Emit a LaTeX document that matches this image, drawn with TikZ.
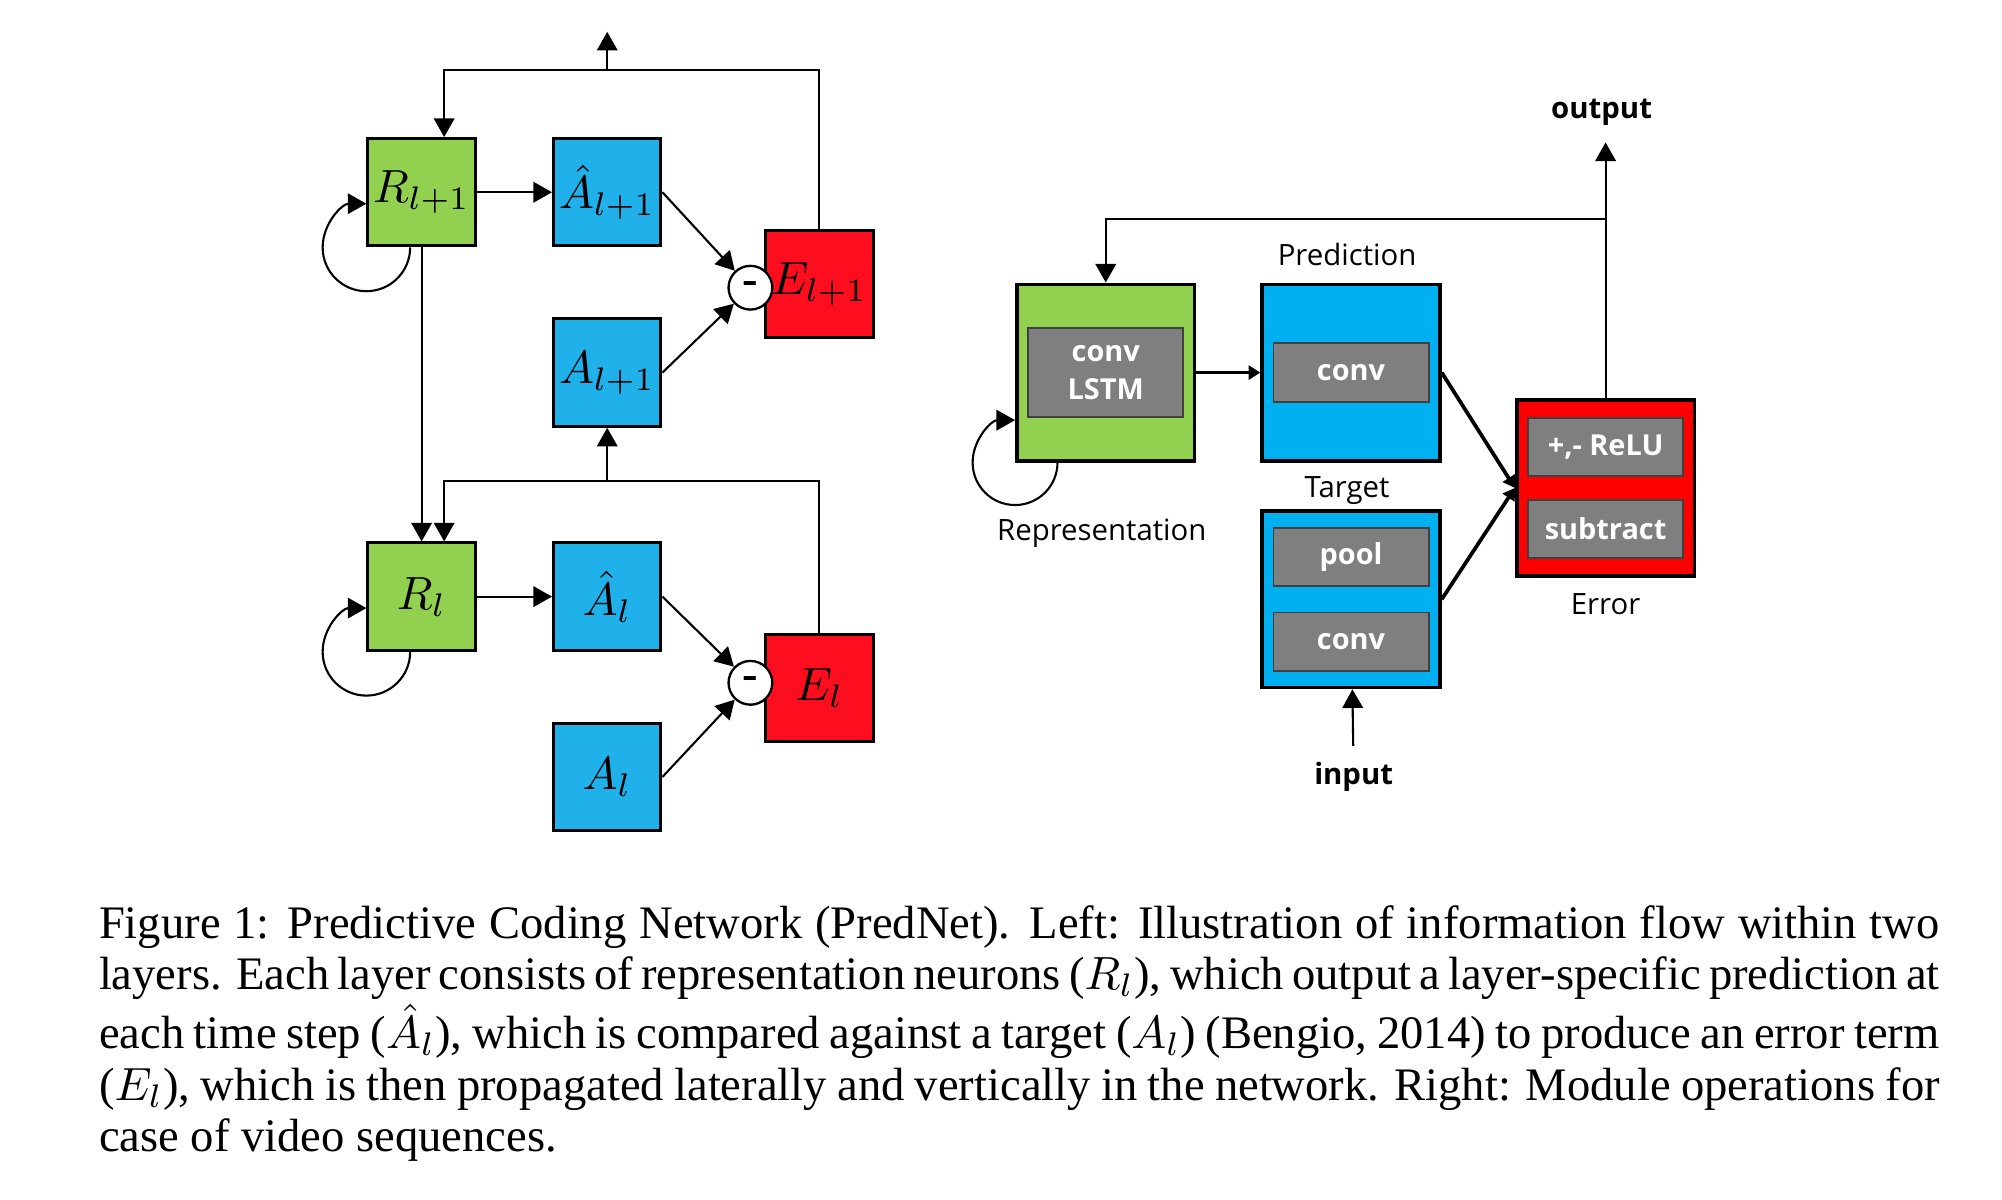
\documentclass[tikz,border=0pt]{standalone}
\usepackage{fontspec}
\setmainfont{Liberation Serif}
\newfontfamily\modfont{Open Sans}
\usetikzlibrary{
  arrows.meta,
  calc,
  positioning,
}
\definecolor{repgreen}{RGB}{146,208,80}
\definecolor{predblue}{RGB}{32,176,234}
\definecolor{modblue}{RGB}{0,176,240}
\definecolor{errred}{RGB}{252,14,30}
\definecolor{opgray}{RGB}{127,127,127}
\tikzset{
  >={Triangle[width=4.4pt,length=4pt]},
  unit/.style={draw, line width=0.65pt, minimum size=0.81cm, inner sep=0pt,
    font=\fontsize{10.3}{12}\selectfont},
  runit/.style={unit, fill=repgreen},
  aunit/.style={unit, fill=predblue},
  eunit/.style={unit, fill=errred},
  diff/.style={draw, fill=white, circle, line width=0.5pt, minimum size=0.33cm,
    inner sep=0pt, font=\bfseries},
  module/.style={draw, line width=0.8pt, minimum width=1.34cm, minimum height=1.33cm},
  op/.style={draw=black!75, line width=0.4pt, fill=opgray, text=white,
    minimum width=1.17cm, minimum height=0.44cm, inner sep=0pt, align=center,
    font=\modfont\bfseries\fontsize{6.2}{8.2}\selectfont},
  tag/.style={font=\modfont\fontsize{6.3}{7.5}\selectfont},
  flow/.style={line width=0.45pt},
}

\begin{document}
\begin{tikzpicture}
      \useasboundingbox (0,0) rectangle (15.10,9.05);
      % left: two layers
      \node [runit] (R1) at (3.18, 7.60) {$R_{l+1}$};
      \node [aunit] (Ah1) at (4.58, 7.60) {$\hat{A}_{l+1}$};
      \node [aunit] (A1) at (4.58, 6.24) {$A_{l+1}$};
      \node [eunit] (E1) at (6.18, 6.91) {$E_{l+1}$};
      \node [diff] (m1) at (5.66, 6.88) {-};
      \node [runit] (R0) at (3.18, 4.55) {$R_l$};
      \node [aunit] (Ah0) at (4.58, 4.55) {$\hat{A}_l$};
      \node [aunit] (A0) at (4.58, 3.19) {$A_l$};
      \node [eunit] (E0) at (6.18, 3.86) {$E_l$};
      \node [diff] (m0) at (5.66, 3.90) {-};
      \coordinate (top1) at (4.58, 8.52);
      \coordinate (out1) at (4.58, 8.81);
      \coordinate (top0) at (4.58, 5.42);
      \draw [flow,->] (R1) -- (Ah1);
      \draw [flow,->] (Ah1.east) -- (m1);
      \draw [flow,->] (A1.east) -- (m1);
      \draw [flow,->] (E1.north) |- (top1) -| ([xshift=0.17cm]R1.north);
      \draw [flow,->] (top1) -- (out1);
      \draw [flow,->] (R1) -- (R0);
      \draw [flow,->] (R0) -- (Ah0);
      \draw [flow,->] (Ah0.east) -- (m0);
      \draw [flow,->] (A0.east) -- (m0);
      \draw [flow,->] (E0.north) |- (top0) -| ([xshift=0.17cm]R0.north);
      \draw [flow,->] (top0) -- (A1);
      \draw [flow,->] ([xshift=0.33cm]R1.south west) arc [start angle=0, end angle=-270, radius=0.33cm];
      \draw [flow,->] ([xshift=0.33cm]R0.south west) arc [start angle=0, end angle=-270, radius=0.33cm];
      % right: module operations
      \node [module, fill=repgreen] (rep) at (8.34, 6.24) {};
      \node [op, minimum height=0.67cm] (lstm) at (8.34, 6.24) {conv\\LSTM};
      \node [module, fill=modblue] (pred) at (10.19, 6.24) {};
      \node [op] (pconv) at (10.19, 6.24) {conv};
      \node [module, fill=modblue] (tgt) at (10.19, 4.53) {};
      \node [op] (pool) at (10.19, 4.85) {pool};
      \node [op] (tconv) at (10.19, 4.21) {conv};
      \node [module, fill=red] (err) at (12.11, 5.37) {};
      \node [op] (relu) at (12.11, 5.68) {+,- ReLU};
      \node [op] (sub) at (12.11, 5.06) {subtract};
      \node [tag] at (10.16, 7.13) {Prediction};
      \node [tag] at (10.16, 5.35) {Target};
      \node [tag] at (8.31, 5.03) {Representation};
      \node [tag] at (12.11, 4.49) {Error};
      \node [tag, font=\modfont\bfseries\fontsize{6.3}{7.5}\selectfont] (out) at (12.08, 8.20) {output};
      \node [tag, font=\modfont\bfseries\fontsize{6.3}{7.5}\selectfont] (in) at (10.21, 3.19) {input};
      \coordinate (fb) at (12.11, 7.40);
      \draw [line width=0.8pt,-{Triangle[width=3pt,length=2.5pt]}] (rep) -- (pred);
      \draw [line width=0.8pt,-{Triangle[width=3pt,length=2.5pt]}] (pred.east) -- (err.west);
      \draw [line width=0.8pt,-{Triangle[width=3pt,length=2.5pt]}] (tgt.east) -- (err.west);
      \draw [flow,->] (err.north) -- (err.north |- out.south);
      \draw [flow,->] (fb) -| (rep.north);
      \draw [flow,->] (in) -- (tgt);
      \draw [flow,->] ([xshift=0.32cm]rep.south west) arc [start angle=0, end angle=-270, radius=0.32cm];
      % caption
      \node [anchor=north west, inner sep=0pt, text width=395pt, align=justify,
        font=\fontsize{10}{11}\selectfont] (cap) at (0.74, 2.225) {
        Figure 1: Predictive Coding Network (PredNet). Left: Illustration of information flow within two layers. Each layer consists of representation neurons ($R_l$), which output a layer-specific prediction at each time step ($\hat{A}_l$), which is compared against a target ($A_l$) (Bengio, 2014) to produce an error term ($E_l$), which is then propagated laterally and vertically in the network. Right: Module operations for case of video sequences.
      };
    \end{tikzpicture}
\end{document}
